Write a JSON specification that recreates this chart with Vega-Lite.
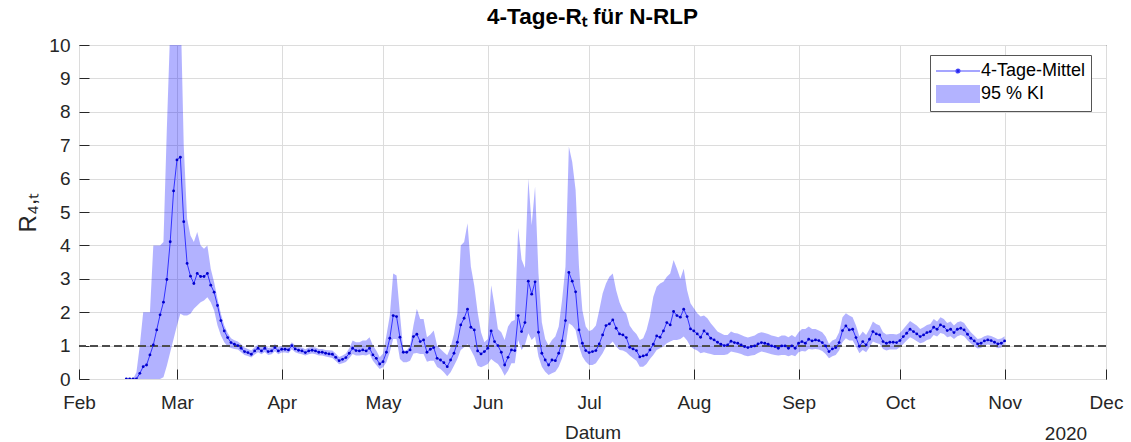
{
  "$schema": "https://vega.github.io/schema/vega-lite/v6.json",
  "width": 1027,
  "height": 334,
  "autosize": {"type": "none"},
  "padding": {"left": 79, "top": 45, "right": 25, "bottom": 63},
  "background": "white",
  "title": {"text": "4-Tage-Rₜ für N-RLP", "font": "Liberation Sans", "fontSize": 22.5, "fontWeight": "bold", "color": "#000000", "anchor": "middle", "offset": 8},
  "config": {
    "view": {"stroke": "#262626", "strokeWidth": 1},
    "axis": {
      "labelFont": "Liberation Sans", "labelFontSize": 19, "labelColor": "#262626",
      "titleFont": "Liberation Sans", "titleFontWeight": "normal", "titleColor": "#262626",
      "gridColor": "#dcdcdc", "gridWidth": 1, "gridOpacity": 1, "domain": false,
      "tickColor": "#262626", "tickSize": -10, "tickWidth": 1, "tickOpacity": 1, "labelOverlap": false
    },
    "axisY": {"tickCount": 11}
  },
  "data": {"values": [
    {"d":"2020-02-15","r":0,"lo":0,"hi":0},
    {"d":"2020-02-16","r":0,"lo":0,"hi":0},
    {"d":"2020-02-17","r":0,"lo":0,"hi":0},
    {"d":"2020-02-18","r":0,"lo":0,"hi":0.2},
    {"d":"2020-02-19","r":0.17,"lo":0,"hi":1.0},
    {"d":"2020-02-20","r":0.37,"lo":0,"hi":2.0},
    {"d":"2020-02-21","r":0.42,"lo":0,"hi":2.0},
    {"d":"2020-02-22","r":0.72,"lo":0,"hi":2.0},
    {"d":"2020-02-23","r":1.02,"lo":0,"hi":4.0},
    {"d":"2020-02-24","r":1.47,"lo":0,"hi":4.0},
    {"d":"2020-02-25","r":1.92,"lo":0,"hi":4.0},
    {"d":"2020-02-26","r":2.3,"lo":0.05,"hi":4.1},
    {"d":"2020-02-27","r":2.98,"lo":0.4,"hi":7.5},
    {"d":"2020-02-28","r":4.11,"lo":0.8,"hi":10.5},
    {"d":"2020-02-29","r":5.63,"lo":1.2,"hi":13},
    {"d":"2020-03-01","r":6.56,"lo":1.6,"hi":15},
    {"d":"2020-03-02","r":6.64,"lo":1.95,"hi":11.5},
    {"d":"2020-03-03","r":4.71,"lo":1.9,"hi":7.0},
    {"d":"2020-03-04","r":3.46,"lo":1.9,"hi":4.8},
    {"d":"2020-03-05","r":3.08,"lo":1.95,"hi":4.3},
    {"d":"2020-03-06","r":2.86,"lo":2.1,"hi":4.1},
    {"d":"2020-03-07","r":3.16,"lo":2.2,"hi":4.4},
    {"d":"2020-03-08","r":3.07,"lo":2.3,"hi":4.0},
    {"d":"2020-03-09","r":3.07,"lo":2.35,"hi":3.9},
    {"d":"2020-03-10","r":3.16,"lo":2.45,"hi":4.0},
    {"d":"2020-03-11","r":2.81,"lo":2.3,"hi":3.3},
    {"d":"2020-03-12","r":2.6,"lo":2.05,"hi":2.9},
    {"d":"2020-03-13","r":2.2,"lo":1.6,"hi":2.4},
    {"d":"2020-03-14","r":1.75,"lo":1.3,"hi":1.95},
    {"d":"2020-03-15","r":1.44,"lo":1.1,"hi":1.6},
    {"d":"2020-03-16","r":1.24,"lo":0.97,"hi":1.38},
    {"d":"2020-03-17","r":1.09,"lo":0.93,"hi":1.22},
    {"d":"2020-03-18","r":1.04,"lo":0.9,"hi":1.16},
    {"d":"2020-03-19","r":1.0,"lo":0.88,"hi":1.12},
    {"d":"2020-03-20","r":0.92,"lo":0.8,"hi":1.04},
    {"d":"2020-03-21","r":0.82,"lo":0.72,"hi":0.94},
    {"d":"2020-03-22","r":0.79,"lo":0.69,"hi":0.9},
    {"d":"2020-03-23","r":0.74,"lo":0.64,"hi":0.85},
    {"d":"2020-03-24","r":0.84,"lo":0.73,"hi":0.95},
    {"d":"2020-03-25","r":0.92,"lo":0.8,"hi":1.03},
    {"d":"2020-03-26","r":0.84,"lo":0.74,"hi":0.95},
    {"d":"2020-03-27","r":0.92,"lo":0.81,"hi":1.03},
    {"d":"2020-03-28","r":0.82,"lo":0.72,"hi":0.93},
    {"d":"2020-03-29","r":0.84,"lo":0.74,"hi":0.95},
    {"d":"2020-03-30","r":0.94,"lo":0.83,"hi":1.05},
    {"d":"2020-03-31","r":0.84,"lo":0.74,"hi":0.95},
    {"d":"2020-04-01","r":0.89,"lo":0.79,"hi":0.99},
    {"d":"2020-04-02","r":0.89,"lo":0.79,"hi":0.99},
    {"d":"2020-04-03","r":0.87,"lo":0.77,"hi":0.97},
    {"d":"2020-04-04","r":1.0,"lo":0.89,"hi":1.1},
    {"d":"2020-04-05","r":0.9,"lo":0.8,"hi":1.0},
    {"d":"2020-04-06","r":0.86,"lo":0.76,"hi":0.96},
    {"d":"2020-04-07","r":0.84,"lo":0.74,"hi":0.94},
    {"d":"2020-04-08","r":0.79,"lo":0.7,"hi":0.89},
    {"d":"2020-04-09","r":0.84,"lo":0.74,"hi":0.94},
    {"d":"2020-04-10","r":0.86,"lo":0.76,"hi":0.96},
    {"d":"2020-04-11","r":0.84,"lo":0.74,"hi":0.94},
    {"d":"2020-04-12","r":0.8,"lo":0.7,"hi":0.9},
    {"d":"2020-04-13","r":0.8,"lo":0.7,"hi":0.9},
    {"d":"2020-04-14","r":0.77,"lo":0.67,"hi":0.87},
    {"d":"2020-04-15","r":0.75,"lo":0.65,"hi":0.86},
    {"d":"2020-04-16","r":0.74,"lo":0.63,"hi":0.85},
    {"d":"2020-04-17","r":0.65,"lo":0.54,"hi":0.76},
    {"d":"2020-04-18","r":0.55,"lo":0.44,"hi":0.66},
    {"d":"2020-04-19","r":0.59,"lo":0.47,"hi":0.7},
    {"d":"2020-04-20","r":0.64,"lo":0.51,"hi":0.76},
    {"d":"2020-04-21","r":0.77,"lo":0.62,"hi":0.92},
    {"d":"2020-04-22","r":0.92,"lo":0.75,"hi":1.15},
    {"d":"2020-04-23","r":0.85,"lo":0.7,"hi":1.1},
    {"d":"2020-04-24","r":0.84,"lo":0.7,"hi":1.1},
    {"d":"2020-04-25","r":0.87,"lo":0.72,"hi":1.15},
    {"d":"2020-04-26","r":0.84,"lo":0.7,"hi":1.15},
    {"d":"2020-04-27","r":0.92,"lo":0.75,"hi":1.25},
    {"d":"2020-04-28","r":0.72,"lo":0.55,"hi":1.0},
    {"d":"2020-04-29","r":0.62,"lo":0.42,"hi":0.85},
    {"d":"2020-04-30","r":0.45,"lo":0.3,"hi":0.65},
    {"d":"2020-05-01","r":0.52,"lo":0.35,"hi":0.76},
    {"d":"2020-05-02","r":0.8,"lo":0.5,"hi":1.3},
    {"d":"2020-05-03","r":1.22,"lo":0.8,"hi":1.9},
    {"d":"2020-05-04","r":1.9,"lo":1.2,"hi":3.16},
    {"d":"2020-05-05","r":1.87,"lo":1.2,"hi":3.1},
    {"d":"2020-05-06","r":1.25,"lo":0.6,"hi":1.95},
    {"d":"2020-05-07","r":0.8,"lo":0.5,"hi":0.85},
    {"d":"2020-05-08","r":0.8,"lo":0.5,"hi":0.85},
    {"d":"2020-05-09","r":0.87,"lo":0.55,"hi":1.0},
    {"d":"2020-05-10","r":1.27,"lo":0.76,"hi":1.6},
    {"d":"2020-05-11","r":1.34,"lo":0.78,"hi":2.1},
    {"d":"2020-05-12","r":1.12,"lo":0.75,"hi":1.8},
    {"d":"2020-05-13","r":1.17,"lo":0.75,"hi":1.8},
    {"d":"2020-05-14","r":0.8,"lo":0.52,"hi":1.25},
    {"d":"2020-05-15","r":0.89,"lo":0.55,"hi":1.33},
    {"d":"2020-05-16","r":0.94,"lo":0.55,"hi":1.45},
    {"d":"2020-05-17","r":0.62,"lo":0.36,"hi":1.0},
    {"d":"2020-05-18","r":0.57,"lo":0.3,"hi":0.9},
    {"d":"2020-05-19","r":0.49,"lo":0.2,"hi":0.8},
    {"d":"2020-05-20","r":0.37,"lo":0.08,"hi":0.71},
    {"d":"2020-05-21","r":0.57,"lo":0.2,"hi":0.95},
    {"d":"2020-05-22","r":0.77,"lo":0.4,"hi":1.35},
    {"d":"2020-05-23","r":1.1,"lo":0.6,"hi":1.96},
    {"d":"2020-05-24","r":1.62,"lo":0.87,"hi":4.0},
    {"d":"2020-05-25","r":1.82,"lo":0.95,"hi":4.1},
    {"d":"2020-05-26","r":2.09,"lo":1.05,"hi":4.66},
    {"d":"2020-05-27","r":1.55,"lo":0.87,"hi":3.36},
    {"d":"2020-05-28","r":1.47,"lo":0.67,"hi":2.8},
    {"d":"2020-05-29","r":0.84,"lo":0.4,"hi":2.0},
    {"d":"2020-05-30","r":0.75,"lo":0.35,"hi":1.4},
    {"d":"2020-05-31","r":0.82,"lo":0.4,"hi":1.1},
    {"d":"2020-06-01","r":0.92,"lo":0.45,"hi":1.2},
    {"d":"2020-06-02","r":1.44,"lo":0.6,"hi":2.81},
    {"d":"2020-06-03","r":1.12,"lo":0.52,"hi":2.2},
    {"d":"2020-06-04","r":1.0,"lo":0.45,"hi":1.5},
    {"d":"2020-06-05","r":0.8,"lo":0.3,"hi":1.4},
    {"d":"2020-06-06","r":0.42,"lo":0.1,"hi":1.17},
    {"d":"2020-06-07","r":0.65,"lo":0.25,"hi":1.57},
    {"d":"2020-06-08","r":0.87,"lo":0.47,"hi":1.72},
    {"d":"2020-06-09","r":0.85,"lo":0.47,"hi":1.77},
    {"d":"2020-06-10","r":1.9,"lo":1.17,"hi":4.52},
    {"d":"2020-06-11","r":1.42,"lo":0.87,"hi":3.58},
    {"d":"2020-06-12","r":1.69,"lo":1.02,"hi":3.32},
    {"d":"2020-06-13","r":2.93,"lo":1.37,"hi":6.0},
    {"d":"2020-06-14","r":2.54,"lo":1.17,"hi":4.6},
    {"d":"2020-06-15","r":2.91,"lo":1.27,"hi":5.76},
    {"d":"2020-06-16","r":1.4,"lo":0.67,"hi":3.17},
    {"d":"2020-06-17","r":0.77,"lo":0.37,"hi":1.7},
    {"d":"2020-06-18","r":0.57,"lo":0.22,"hi":1.2},
    {"d":"2020-06-19","r":0.42,"lo":0.12,"hi":1.0},
    {"d":"2020-06-20","r":0.57,"lo":0.17,"hi":1.17},
    {"d":"2020-06-21","r":0.55,"lo":0.22,"hi":1.27},
    {"d":"2020-06-22","r":0.77,"lo":0.37,"hi":1.57},
    {"d":"2020-06-23","r":1.14,"lo":0.62,"hi":2.37},
    {"d":"2020-06-24","r":1.75,"lo":0.97,"hi":3.36},
    {"d":"2020-06-25","r":3.19,"lo":1.67,"hi":6.96},
    {"d":"2020-06-26","r":2.93,"lo":1.6,"hi":6.5},
    {"d":"2020-06-27","r":2.61,"lo":1.47,"hi":5.66},
    {"d":"2020-06-28","r":1.47,"lo":0.97,"hi":3.36},
    {"d":"2020-06-29","r":1.07,"lo":0.67,"hi":2.06},
    {"d":"2020-06-30","r":0.85,"lo":0.52,"hi":1.57},
    {"d":"2020-07-01","r":0.79,"lo":0.42,"hi":1.43},
    {"d":"2020-07-02","r":0.82,"lo":0.42,"hi":1.48},
    {"d":"2020-07-03","r":0.85,"lo":0.47,"hi":1.6},
    {"d":"2020-07-04","r":1.05,"lo":0.62,"hi":2.06},
    {"d":"2020-07-05","r":1.32,"lo":0.77,"hi":2.56},
    {"d":"2020-07-06","r":1.6,"lo":0.97,"hi":2.86},
    {"d":"2020-07-07","r":1.65,"lo":1.02,"hi":3.06},
    {"d":"2020-07-08","r":1.77,"lo":1.12,"hi":3.16},
    {"d":"2020-07-09","r":1.52,"lo":0.97,"hi":2.66},
    {"d":"2020-07-10","r":1.35,"lo":0.87,"hi":2.3},
    {"d":"2020-07-11","r":1.32,"lo":0.85,"hi":2.06},
    {"d":"2020-07-12","r":1.24,"lo":0.8,"hi":1.96},
    {"d":"2020-07-13","r":0.95,"lo":0.7,"hi":1.6},
    {"d":"2020-07-14","r":0.9,"lo":0.62,"hi":1.45},
    {"d":"2020-07-15","r":0.85,"lo":0.55,"hi":1.35},
    {"d":"2020-07-16","r":0.66,"lo":0.37,"hi":1.17},
    {"d":"2020-07-17","r":0.69,"lo":0.37,"hi":1.22},
    {"d":"2020-07-18","r":0.72,"lo":0.45,"hi":1.47},
    {"d":"2020-07-19","r":0.87,"lo":0.6,"hi":1.87},
    {"d":"2020-07-20","r":1.04,"lo":0.72,"hi":2.46},
    {"d":"2020-07-21","r":1.29,"lo":0.87,"hi":2.76},
    {"d":"2020-07-22","r":1.25,"lo":0.92,"hi":2.86},
    {"d":"2020-07-23","r":1.44,"lo":0.97,"hi":2.91},
    {"d":"2020-07-24","r":1.69,"lo":1.07,"hi":3.06},
    {"d":"2020-07-25","r":1.62,"lo":1.12,"hi":3.16},
    {"d":"2020-07-26","r":2.02,"lo":1.17,"hi":3.56},
    {"d":"2020-07-27","r":1.9,"lo":1.17,"hi":3.3},
    {"d":"2020-07-28","r":1.85,"lo":1.2,"hi":3.0},
    {"d":"2020-07-29","r":2.09,"lo":1.27,"hi":3.3},
    {"d":"2020-07-30","r":1.87,"lo":1.15,"hi":2.66},
    {"d":"2020-07-31","r":1.5,"lo":0.97,"hi":2.27},
    {"d":"2020-08-01","r":1.44,"lo":0.9,"hi":2.12},
    {"d":"2020-08-02","r":1.35,"lo":0.85,"hi":1.97},
    {"d":"2020-08-03","r":1.25,"lo":0.77,"hi":1.87},
    {"d":"2020-08-04","r":1.44,"lo":0.8,"hi":1.9},
    {"d":"2020-08-05","r":1.35,"lo":0.77,"hi":1.82},
    {"d":"2020-08-06","r":1.22,"lo":0.75,"hi":1.67},
    {"d":"2020-08-07","r":1.17,"lo":0.72,"hi":1.55},
    {"d":"2020-08-08","r":1.1,"lo":0.72,"hi":1.42},
    {"d":"2020-08-09","r":1.04,"lo":0.72,"hi":1.37},
    {"d":"2020-08-10","r":1.0,"lo":0.72,"hi":1.32},
    {"d":"2020-08-11","r":1.02,"lo":0.74,"hi":1.32},
    {"d":"2020-08-12","r":1.13,"lo":0.82,"hi":1.42},
    {"d":"2020-08-13","r":1.09,"lo":0.8,"hi":1.38},
    {"d":"2020-08-14","r":1.07,"lo":0.78,"hi":1.36},
    {"d":"2020-08-15","r":1.02,"lo":0.75,"hi":1.32},
    {"d":"2020-08-16","r":0.97,"lo":0.7,"hi":1.27},
    {"d":"2020-08-17","r":0.94,"lo":0.68,"hi":1.24},
    {"d":"2020-08-18","r":0.97,"lo":0.7,"hi":1.27},
    {"d":"2020-08-19","r":0.99,"lo":0.72,"hi":1.3},
    {"d":"2020-08-20","r":1.05,"lo":0.78,"hi":1.37},
    {"d":"2020-08-21","r":1.09,"lo":0.82,"hi":1.4},
    {"d":"2020-08-22","r":1.07,"lo":0.8,"hi":1.38},
    {"d":"2020-08-23","r":1.04,"lo":0.77,"hi":1.35},
    {"d":"2020-08-24","r":0.99,"lo":0.74,"hi":1.3},
    {"d":"2020-08-25","r":0.97,"lo":0.72,"hi":1.28},
    {"d":"2020-08-26","r":0.92,"lo":0.7,"hi":1.25},
    {"d":"2020-08-27","r":0.99,"lo":0.72,"hi":1.3},
    {"d":"2020-08-28","r":0.99,"lo":0.72,"hi":1.3},
    {"d":"2020-08-29","r":0.92,"lo":0.68,"hi":1.25},
    {"d":"2020-08-30","r":0.99,"lo":0.72,"hi":1.32},
    {"d":"2020-08-31","r":0.92,"lo":0.68,"hi":1.25},
    {"d":"2020-09-01","r":1.07,"lo":0.8,"hi":1.4},
    {"d":"2020-09-02","r":1.12,"lo":0.84,"hi":1.5},
    {"d":"2020-09-03","r":1.07,"lo":0.82,"hi":1.5},
    {"d":"2020-09-04","r":1.19,"lo":0.9,"hi":1.57},
    {"d":"2020-09-05","r":1.14,"lo":0.88,"hi":1.5},
    {"d":"2020-09-06","r":1.17,"lo":0.9,"hi":1.5},
    {"d":"2020-09-07","r":1.15,"lo":0.88,"hi":1.45},
    {"d":"2020-09-08","r":1.09,"lo":0.84,"hi":1.4},
    {"d":"2020-09-09","r":0.99,"lo":0.75,"hi":1.27},
    {"d":"2020-09-10","r":0.82,"lo":0.62,"hi":1.05},
    {"d":"2020-09-11","r":0.9,"lo":0.68,"hi":1.15},
    {"d":"2020-09-12","r":0.94,"lo":0.72,"hi":1.2},
    {"d":"2020-09-13","r":1.09,"lo":0.85,"hi":1.4},
    {"d":"2020-09-14","r":1.45,"lo":1.1,"hi":1.85},
    {"d":"2020-09-15","r":1.59,"lo":1.22,"hi":1.97},
    {"d":"2020-09-16","r":1.47,"lo":1.15,"hi":1.9},
    {"d":"2020-09-17","r":1.49,"lo":1.15,"hi":1.85},
    {"d":"2020-09-18","r":1.24,"lo":0.97,"hi":1.6},
    {"d":"2020-09-19","r":0.98,"lo":0.77,"hi":1.28},
    {"d":"2020-09-20","r":1.12,"lo":0.87,"hi":1.42},
    {"d":"2020-09-21","r":1.02,"lo":0.8,"hi":1.32},
    {"d":"2020-09-22","r":1.19,"lo":0.95,"hi":1.5},
    {"d":"2020-09-23","r":1.42,"lo":1.12,"hi":1.72},
    {"d":"2020-09-24","r":1.35,"lo":1.08,"hi":1.65},
    {"d":"2020-09-25","r":1.32,"lo":1.05,"hi":1.6},
    {"d":"2020-09-26","r":1.12,"lo":0.9,"hi":1.4},
    {"d":"2020-09-27","r":1.07,"lo":0.85,"hi":1.33},
    {"d":"2020-09-28","r":1.1,"lo":0.88,"hi":1.35},
    {"d":"2020-09-29","r":1.1,"lo":0.88,"hi":1.35},
    {"d":"2020-09-30","r":1.09,"lo":0.88,"hi":1.33},
    {"d":"2020-10-01","r":1.15,"lo":0.95,"hi":1.38},
    {"d":"2020-10-02","r":1.27,"lo":1.05,"hi":1.5},
    {"d":"2020-10-03","r":1.37,"lo":1.15,"hi":1.62},
    {"d":"2020-10-04","r":1.49,"lo":1.25,"hi":1.74},
    {"d":"2020-10-05","r":1.42,"lo":1.2,"hi":1.67},
    {"d":"2020-10-06","r":1.35,"lo":1.13,"hi":1.6},
    {"d":"2020-10-07","r":1.27,"lo":1.07,"hi":1.5},
    {"d":"2020-10-08","r":1.32,"lo":1.1,"hi":1.55},
    {"d":"2020-10-09","r":1.39,"lo":1.17,"hi":1.62},
    {"d":"2020-10-10","r":1.42,"lo":1.2,"hi":1.65},
    {"d":"2020-10-11","r":1.55,"lo":1.32,"hi":1.8},
    {"d":"2020-10-12","r":1.49,"lo":1.27,"hi":1.72},
    {"d":"2020-10-13","r":1.62,"lo":1.38,"hi":1.85},
    {"d":"2020-10-14","r":1.57,"lo":1.35,"hi":1.8},
    {"d":"2020-10-15","r":1.45,"lo":1.25,"hi":1.68},
    {"d":"2020-10-16","r":1.49,"lo":1.28,"hi":1.72},
    {"d":"2020-10-17","r":1.39,"lo":1.2,"hi":1.6},
    {"d":"2020-10-18","r":1.49,"lo":1.28,"hi":1.7},
    {"d":"2020-10-19","r":1.52,"lo":1.32,"hi":1.73},
    {"d":"2020-10-20","r":1.47,"lo":1.28,"hi":1.68},
    {"d":"2020-10-21","r":1.34,"lo":1.16,"hi":1.53},
    {"d":"2020-10-22","r":1.22,"lo":1.06,"hi":1.4},
    {"d":"2020-10-23","r":1.14,"lo":0.99,"hi":1.3},
    {"d":"2020-10-24","r":1.05,"lo":0.91,"hi":1.2},
    {"d":"2020-10-25","r":1.07,"lo":0.93,"hi":1.22},
    {"d":"2020-10-26","r":1.14,"lo":1.0,"hi":1.28},
    {"d":"2020-10-27","r":1.17,"lo":1.03,"hi":1.31},
    {"d":"2020-10-28","r":1.15,"lo":1.01,"hi":1.29},
    {"d":"2020-10-29","r":1.1,"lo":0.97,"hi":1.24},
    {"d":"2020-10-30","r":1.05,"lo":0.92,"hi":1.19},
    {"d":"2020-10-31","r":1.07,"lo":0.94,"hi":1.21},
    {"d":"2020-11-01","r":1.14,"lo":1.0,"hi":1.28}
  ]},
  "resolve": {"axis": {"x": "independent"}},
  "layer": [
    {
      "mark": {"type": "area", "fill": "#0000ff", "fillOpacity": 0.3, "clip": true, "strokeWidth": 0},
      "encoding": {
        "x": {"field": "d", "type": "temporal",
              "scale": {"type": "utc", "domain": [{"year": 2020, "month": 2, "date": 1, "utc": true}, {"year": 2020, "month": 12, "date": 1, "utc": true}], "nice": false},
              "axis": {"title": "Datum", "titleFontSize": 19, "titleY": 59, "titleBaseline": "alphabetic", "format": "%b", "labelFlush": false, "labelOverlap": false, "labelBound": false, "labelPadding": 24,
                       "values": [{"year":2020,"month":2,"date":1,"utc":true},{"year":2020,"month":3,"date":1,"utc":true},{"year":2020,"month":4,"date":1,"utc":true},{"year":2020,"month":5,"date":1,"utc":true},{"year":2020,"month":6,"date":1,"utc":true},{"year":2020,"month":7,"date":1,"utc":true},{"year":2020,"month":8,"date":1,"utc":true},{"year":2020,"month":9,"date":1,"utc":true},{"year":2020,"month":10,"date":1,"utc":true},{"year":2020,"month":11,"date":1,"utc":true},{"year":2020,"month":12,"date":1,"utc":true}]}},
        "y": {"field": "lo", "type": "quantitative",
              "scale": {"domain": [0, 10], "nice": false, "zero": true},
              "axis": {"title": "R₄,ₜ", "titleFontSize": 24, "titlePadding": 8, "values": [0,1,2,3,4,5,6,7,8,9,10], "tickCount": 11, "labelOverlap": false, "labelPadding": 19}},
        "y2": {"field": "hi"}
      }
    },
    {
      "mark": {"type": "rule", "strokeDash": [8, 4], "color": "#4d4d4d", "strokeWidth": 1.3},
      "encoding": {"y": {"datum": 1, "type": "quantitative"}}
    },
    {
      "mark": {"type": "line", "color": "#3333ff", "strokeWidth": 1, "clip": true},
      "encoding": {
        "x": {"field": "d", "type": "temporal", "axis": null},
        "y": {"field": "r", "type": "quantitative"}
      }
    },
    {
      "mark": {"type": "point", "filled": true, "color": "#0000cc", "size": 8, "opacity": 1, "clip": true},
      "encoding": {
        "x": {"field": "d", "type": "temporal", "axis": null},
        "y": {"field": "r", "type": "quantitative"}
      }
    },
    {
      "transform": [{"filter": "false"}],
      "mark": {"type": "area"},
      "encoding": {
        "color": {"field": "k", "type": "nominal",
                  "scale": {"domain": ["4-Tage-Mittel", "95 % KI"], "range": ["#0000cc", "#b3b3ff"]},
                  "legend": {"orient": "none", "legendX": 851, "legendY": 10, "title": null,
                             "strokeColor": "#555555", "fillColor": "white", "padding": 5,
                             "labelFont": "Liberation Sans", "labelFontSize": 18, "labelColor": "#000000",
                             "symbolSize": 400, "labelOffset": 24, "rowPadding": 2,
                             "encode": {"symbols": {"update": {
                               "shape": {"signal": "datum.value === '95 % KI' ? 'M-1,-0.9H3.4V0.9H-1Z' : 'M-1,0H3.4M1.4,0A0.2,0.2,0,1,1,1.0,0A0.2,0.2,0,1,1,1.4,0'"},
                               "stroke": {"signal": "datum.value === '95 % KI' ? 'transparent' : '#4d4dff'"},
                               "strokeWidth": {"value": 1.2}
                             }}}}}
      }
    },
    {
      "mark": {"type": "point", "opacity": 0},
      "encoding": {
        "x": {"field": "d", "type": "temporal",
              "axis": {"orient": "bottom", "title": null, "domain": false, "ticks": false, "tickSize": 0, "grid": false, "labelPadding": 45, "labelFontSize": 19, "labelFlush": false, "labelOverlap": false, "labelBound": false,
                       "values": [{"year": 2020, "month": 11, "date": 19, "utc": true}], "labelExpr": "'2020'"}}
      }
    }
  ]
}
